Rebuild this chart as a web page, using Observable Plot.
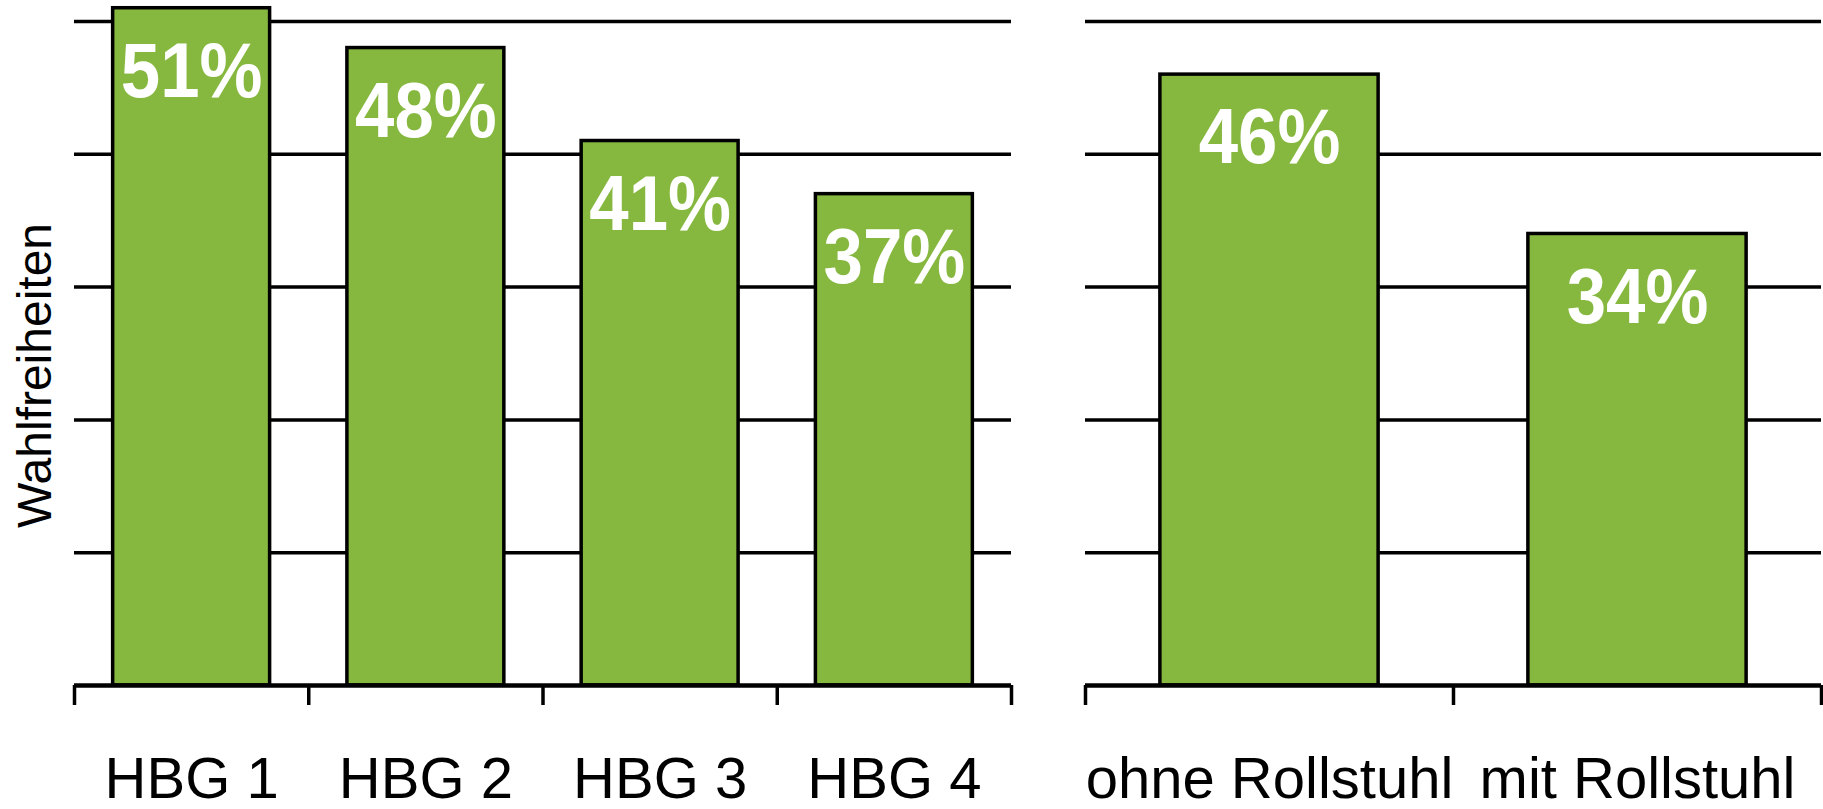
<!DOCTYPE html>
<html><head><meta charset="utf-8">
<script src="https://cdn.jsdelivr.net/npm/d3@7"></script>
<script src="https://cdn.jsdelivr.net/npm/@observablehq/plot@0.6"></script>
<style>
body{margin:0;background:#fff;}
#chart{position:relative;width:1823px;height:809px;font-family:"Liberation Sans",Arial,sans-serif;}
#chart svg{position:absolute;top:0;overflow:visible;}
</style></head><body><div id="chart"></div>
<script>
const groupsLeft = ["HBG 1", "HBG 2", "HBG 3", "HBG 4"];
const valuesLeft = [51, 48, 41, 37];
const groupsRight = ["ohne Rollstuhl", "mit Rollstuhl"];
const valuesRight = [46, 34];
const gridValues = [10, 20, 30, 40, 50];
const yTitle = "Wahlfreiheiten";

function panel({cats, vals, width, marginLeft, marginRight, pad, title}) {
  const n = cats.length;
  const data = cats.map((c, i) => ({cat: c, val: vals[i], i}));
  const marks = [
    Plot.ruleY(gridValues, {stroke: "#000", strokeWidth: 3.5}),
    Plot.rectY(data, {x1: d => d.i + pad, x2: d => d.i + 1 - pad, y: "val", fill: "#86b83f", stroke: "#000", strokeWidth: 3.5}),
    Plot.ruleY([0], {stroke: "#000", strokeWidth: 4.5}),
    Plot.axisX(d3.range(n + 1), {tickSize: 20, tickFormat: () => "", stroke: "#000", strokeWidth: 3.5}),
    Plot.axisX(d3.range(n).map(i => i + 0.5), {tickSize: 0, tickPadding: 71, tickFormat: t => cats[Math.floor(t)], fontSize: 58, fill: "#000"}),
    Plot.text(data, {x: d => d.i + 0.5, y: "val", text: d => d.val + "%", lineAnchor: "top", dy: 34, fill: "#fff", fontSize: 77, fontWeight: "bold"})
  ];
  if (title) marks.push(Plot.text([title], {frameAnchor: "left", textAnchor: "middle", lineAnchor: "middle", rotate: -90, dx: -39, dy: 22, fontSize: 48, fill: "#000"}));
  const svg = Plot.plot({
    width, height: 809,
    marginLeft, marginRight, marginTop: 21, marginBottom: 124,
    style: {fontFamily: "'Liberation Sans', Arial, sans-serif", background: "transparent", overflow: "visible"},
    x: {domain: [0, n], axis: null},
    y: {domain: [0, 50], axis: null},
    marks
  });
  // slightly condensed bold value labels, as in the original
  svg.querySelectorAll("text").forEach(t => {
    if (t.getAttribute("fill") === "#fff" || (t.parentNode && t.parentNode.getAttribute && t.parentNode.getAttribute("fill") === "#fff")) {
      const tr = t.getAttribute("transform") || "";
      t.setAttribute("transform", tr + " scale(0.92,1)");
    }
  });
  return svg;
}

const chart = document.getElementById("chart");
const left = panel({cats: groupsLeft, vals: valuesLeft, width: 1050, marginLeft: 74, marginRight: 39, pad: 0.165, title: yTitle});
left.style.left = "0px";
const right = panel({cats: groupsRight, vals: valuesRight, width: 773, marginLeft: 35, marginRight: 2, pad: 0.2035});
right.style.left = "1050px";
chart.appendChild(left);
chart.appendChild(right);
</script></body></html>
